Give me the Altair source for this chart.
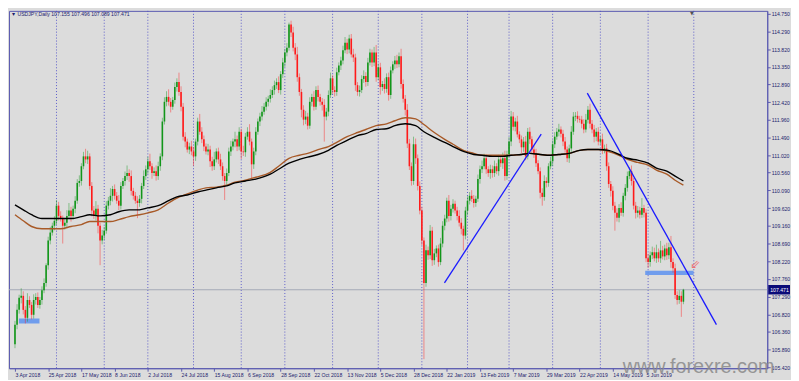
import altair as alt
import pandas as pd

# ---------------- data ----------------
x_labels = ["3 Apr 2018", "25 Apr 2018", "17 May 2018", "8 Jun 2018", "2 Jul 2018",
            "24 Jul 2018", "15 Aug 2018", "6 Sep 2018", "28 Sep 2018", "22 Oct 2018",
            "13 Nov 2018", "5 Dec 2018", "28 Dec 2018", "22 Jan 2019", "13 Feb 2019",
            "7 Mar 2019", "29 Mar 2019", "22 Apr 2019", "14 May 2019", "5 Jun 2019"]
label_idx = [0, 16, 32, 48, 64, 80, 96, 112, 128, 144, 160, 176, 192, 208, 224,
             240, 256, 272, 288, 304]
grid_idx = [20, 43, 64, 86, 109, 130, 153, 175, 196, 218, 238, 259, 282, 305, 327]
y_ticks = [114.750, 114.290, 113.820, 113.350, 112.890, 112.420, 111.960, 111.490,
           111.020, 110.560, 110.090, 109.620, 109.160, 108.690, 108.220, 107.760,
           107.290, 106.820, 106.360, 105.890, 105.420]

first_open = 106.03
closes = [
    106.55, 106.94, 107.26, 107.31, 106.94, 106.73, 107.20, 107.07, 106.81, 107.20,
    107.28, 107.07, 107.20, 107.46, 107.65, 108.12, 108.77, 108.98, 109.16, 109.29,
    109.69, 109.42, 109.35, 109.16, 109.24, 109.42, 109.56, 109.42, 109.61, 109.82,
    110.29, 110.34, 110.73, 110.99, 110.91, 110.99, 110.21, 109.56, 109.42, 109.61,
    109.16, 108.77, 108.90, 109.03, 109.69, 109.82, 109.95, 110.13, 109.95, 109.82,
    109.69, 110.21, 110.34, 110.47, 110.55, 110.47, 110.08, 109.95, 109.82, 109.76,
    109.87, 110.21, 110.47, 110.65, 110.86, 110.73, 110.55, 110.60, 110.47, 110.73,
    110.99, 111.91, 112.43, 112.56, 112.43, 112.30, 112.48, 112.82, 112.95, 112.69,
    112.30, 111.51, 111.38, 111.17, 111.25, 111.12, 110.99, 111.38, 111.91, 111.64,
    111.44, 111.25, 111.12, 111.17, 110.86, 110.73, 110.91, 111.12, 110.91, 110.73,
    110.47, 110.34, 110.55, 111.12, 111.25, 111.38, 111.44, 111.25, 111.64, 111.12,
    111.10, 111.51, 111.64, 111.38, 110.78, 111.12, 111.64, 111.91, 112.04, 112.17,
    112.30, 112.43, 112.51, 112.61, 112.74, 112.87, 112.95, 112.74, 113.16, 113.47,
    113.73, 113.86, 114.47, 114.26, 113.86, 113.68, 113.08, 112.69, 112.22, 111.96,
    112.04, 111.80, 112.43, 112.56, 112.30, 112.74, 112.56, 112.43, 112.35, 112.04,
    112.17, 112.61, 113.05, 112.74, 112.69, 113.21, 113.39, 113.52, 113.79, 113.99,
    113.81, 114.10, 113.68, 113.60, 112.87, 112.69, 112.74, 113.03, 113.11, 112.95,
    113.47, 113.73, 113.47, 113.73, 113.08, 113.34, 112.82, 112.90, 112.77, 113.08,
    112.61, 113.26, 113.42, 113.52, 113.42, 113.63, 112.90, 112.51, 112.22, 111.33,
    110.73, 110.34, 111.31, 110.94, 110.21, 109.56, 108.77, 107.65, 108.51, 108.38,
    109.03, 108.25, 108.43, 108.56, 108.20, 108.69, 109.16, 109.35, 109.82, 109.42,
    109.61, 109.74, 109.56, 109.42, 109.24, 109.08, 108.90, 109.56, 109.82, 109.95,
    109.87, 109.76, 109.87, 110.39, 110.65, 110.73, 110.94, 110.65, 110.55, 110.65,
    110.55, 110.73, 110.60, 110.91, 110.81, 110.94, 110.47, 111.04, 111.38, 112.04,
    111.77, 111.91, 111.57, 111.44, 111.23, 111.38, 110.99, 111.64, 111.44, 111.17,
    111.07, 110.81, 110.60, 110.03, 109.92, 110.34, 110.29, 110.73, 110.86, 111.31,
    111.51, 111.64, 111.70, 111.59, 111.38, 111.17, 110.94, 111.20, 111.64, 112.04,
    112.06, 111.98, 111.96, 111.85, 111.70, 111.96, 112.22, 111.85, 111.70, 111.51,
    111.64, 111.38, 111.44, 111.17, 111.20, 110.73, 110.26, 110.08, 109.69, 109.50,
    109.37, 109.63, 109.50, 109.95, 110.16, 110.47, 110.60, 110.34, 109.69, 109.50,
    109.56, 109.45, 109.63, 109.50, 108.30, 108.20, 108.38, 108.46, 108.30, 108.46,
    108.30, 108.51, 108.35, 108.56, 108.38, 108.59, 108.20, 108.04, 107.33, 107.20,
    107.31, 107.155, 107.471,
]
upper_wick = [
    0.10, 0.15, 0.08, 0.20, 0.12, 0.10, 0.18, 0.10, 0.08, 0.15,
    0.10, 0.12, 0.08, 0.10, 0.12, 0.05, 0.10, 0.15, 0.08, 0.12,
    0.15, 0.10, 0.12, 0.08, 0.10, 0.15, 0.20, 0.10, 0.08, 0.12,
    0.10, 0.15, 0.08, 0.12, 0.20, 0.15, 0.08, 0.10, 0.12, 0.20,
    0.10, 0.08, 0.15, 0.10, 0.12, 0.10, 0.20, 0.08, 0.12, 0.10,
    0.15, 0.10, 0.08, 0.12, 0.20, 0.10, 0.15, 0.08, 0.10, 0.12,
    0.10, 0.08, 0.15, 0.10, 0.12, 0.20, 0.08, 0.10, 0.15, 0.12,
    0.08, 0.10, 0.12, 0.15, 0.20, 0.10, 0.08, 0.12, 0.10, 0.25,
    0.15, 0.10, 0.12, 0.08, 0.10, 0.15, 0.12, 0.08, 0.10, 0.20,
    0.12, 0.10, 0.08, 0.15, 0.10, 0.12, 0.20, 0.08, 0.10, 0.15,
    0.10, 0.08, 0.12, 0.10, 0.15, 0.08, 0.20, 0.10, 0.12, 0.08,
    0.15, 0.10, 0.12, 0.20, 0.08, 0.10, 0.12, 0.08, 0.10, 0.15,
    0.10, 0.12, 0.08, 0.15, 0.10, 0.12, 0.10, 0.15, 0.08, 0.12,
    0.10, 0.12, 0.05, 0.10, 0.15, 0.12, 0.20, 0.10, 0.08, 0.12,
    0.15, 0.10, 0.12, 0.08, 0.15, 0.10, 0.12, 0.08, 0.10, 0.15,
    0.10, 0.12, 0.15, 0.08, 0.10, 0.12, 0.08, 0.10, 0.12, 0.15,
    0.10, 0.10, 0.12, 0.15, 0.10, 0.08, 0.12, 0.10, 0.15, 0.10,
    0.12, 0.10, 0.08, 0.15, 0.20, 0.10, 0.12, 0.08, 0.15, 0.10,
    0.12, 0.10, 0.08, 0.12, 0.15, 0.10, 0.20, 0.12, 0.10, 0.15,
    0.12, 0.10, 0.20, 0.15, 0.10, 0.12, 0.10, 0.08, 0.15, 0.10,
    0.15, 0.10, 0.12, 0.08, 0.10, 0.15, 0.12, 0.10, 0.08, 0.15,
    0.10, 0.12, 0.08, 0.10, 0.15, 0.12, 0.08, 0.10, 0.12, 0.10,
    0.15, 0.10, 0.08, 0.12, 0.10, 0.15, 0.12, 0.10, 0.08, 0.12,
    0.10, 0.15, 0.08, 0.12, 0.10, 0.15, 0.20, 0.10, 0.12, 0.15,
    0.12, 0.10, 0.15, 0.08, 0.10, 0.12, 0.15, 0.10, 0.12, 0.08,
    0.10, 0.12, 0.08, 0.10, 0.12, 0.15, 0.10, 0.08, 0.12, 0.10,
    0.12, 0.10, 0.15, 0.08, 0.10, 0.12, 0.08, 0.10, 0.15, 0.12,
    0.10, 0.12, 0.08, 0.10, 0.12, 0.15, 0.10, 0.16, 0.10, 0.12,
    0.10, 0.12, 0.08, 0.15, 0.10, 0.12, 0.10, 0.08, 0.12, 0.10,
    0.12, 0.10, 0.15, 0.08, 0.10, 0.12, 0.10, 0.15, 0.08, 0.10,
    0.12, 0.10, 0.26, 0.08, 0.10, 0.12, 0.10, 0.15, 0.12, 0.20,
    0.10, 0.25, 0.12, 0.10, 0.15, 0.12, 0.30, 0.10, 0.12, 0.10,
    0.15, 0.12, 0.025,
]
lower_wick = [
    0.10, 0.12, 0.10, 0.15, 0.12, 0.15, 0.10, 0.08, 0.12, 0.10,
    0.12, 0.08, 0.10, 0.12, 0.08, 0.10, 0.12, 0.10, 0.08, 0.12,
    0.10, 0.12, 0.08, 0.47, 0.10, 0.12, 0.08, 0.15, 0.10, 0.12,
    0.08, 0.10, 0.12, 0.08, 0.10, 0.12, 0.10, 0.15, 0.08, 0.12,
    0.20, 0.65, 0.10, 0.12, 0.08, 0.10, 0.12, 0.15, 0.10, 0.08,
    0.12, 0.10, 0.08, 0.12, 0.10, 0.15, 0.12, 0.10, 0.08, 0.40,
    0.10, 0.12, 0.08, 0.10, 0.12, 0.10, 0.15, 0.08, 0.12, 0.10,
    0.12, 0.10, 0.08, 0.12, 0.10, 0.15, 0.08, 0.10, 0.12, 0.10,
    0.12, 0.10, 0.15, 0.08, 0.12, 0.10, 0.25, 0.12, 0.10, 0.08,
    0.10, 0.12, 0.08, 0.10, 0.15, 0.12, 0.10, 0.08, 0.12, 0.10,
    0.12, 0.50, 0.10, 0.08, 0.12, 0.10, 0.15, 0.12, 0.10, 0.20,
    0.10, 0.12, 0.08, 0.10, 0.40, 0.12, 0.10, 0.08, 0.12, 0.10,
    0.08, 0.10, 0.12, 0.10, 0.08, 0.12, 0.10, 0.08, 0.12, 0.10,
    0.12, 0.10, 0.08, 0.12, 0.10, 0.15, 0.12, 0.10, 0.20, 0.15,
    0.12, 0.10, 0.08, 0.12, 0.10, 0.08, 0.12, 0.10, 0.15, 0.66,
    0.10, 0.12, 0.08, 0.10, 0.12, 0.10, 0.08, 0.12, 0.10, 0.08,
    0.12, 0.10, 0.08, 0.12, 0.15, 0.10, 0.12, 0.08, 0.10, 0.12,
    0.10, 0.08, 0.12, 0.10, 0.12, 0.08, 0.20, 0.10, 0.12, 0.10,
    0.15, 0.10, 0.08, 0.12, 0.10, 0.08, 0.12, 0.10, 0.15, 0.12,
    0.10, 0.12, 0.10, 0.15, 0.12, 0.10, 0.12, 2.01, 0.10, 0.12,
    0.10, 0.15, 0.12, 0.10, 0.12, 0.08, 0.10, 0.12, 0.10, 0.15,
    0.12, 0.10, 0.08, 0.12, 0.10, 0.15, 0.39, 0.10, 0.12, 0.10,
    0.08, 0.12, 0.10, 0.08, 0.12, 0.10, 0.08, 0.12, 0.10, 0.15,
    0.12, 0.10, 0.08, 0.12, 0.10, 0.15, 0.12, 0.10, 0.08, 0.12,
    0.10, 0.12, 0.08, 0.10, 0.15, 0.12, 0.10, 0.08, 0.12, 0.10,
    0.12, 0.10, 0.08, 0.15, 0.23, 0.10, 0.12, 0.10, 0.08, 0.12,
    0.10, 0.08, 0.12, 0.10, 0.12, 0.08, 0.10, 0.12, 0.10, 0.08,
    0.12, 0.10, 0.08, 0.12, 0.10, 0.08, 0.10, 0.12, 0.10, 0.15,
    0.12, 0.10, 0.08, 0.12, 0.10, 0.12, 0.10, 0.15, 0.12, 0.47,
    0.10, 0.12, 0.08, 0.10, 0.12, 0.10, 0.08, 0.12, 0.10, 0.15,
    0.12, 0.10, 0.08, 0.12, 0.10, 0.15, 0.12, 0.10, 0.08, 0.12,
    0.10, 0.12, 0.08, 0.10, 0.12, 0.10, 0.15, 0.12, 0.10, 0.12,
    0.10, 0.40, 0.066,
]

ma_idx = [0, 4, 8, 13, 18, 22, 27, 32, 36, 41, 46, 50, 55, 60, 64, 69, 74, 78, 83, 88,
          92, 97, 102, 106, 111, 116, 123, 127, 132, 137, 141, 146, 151, 155, 160, 165,
          169, 174, 179, 183, 188, 193, 197, 202, 207, 211, 216, 221, 225, 230, 235, 239,
          244, 248, 253, 258, 262, 267, 272, 276, 281, 286, 291, 295, 300, 305, 309, 314,
          318, 322]
ma_black = [109.71, 109.58, 109.45, 109.35, 109.35, 109.35, 109.35, 109.40, 109.45, 109.42,
            109.45, 109.53, 109.58, 109.58, 109.63, 109.69, 109.82, 109.92, 109.97, 110.05,
            110.10, 110.16, 110.21, 110.29, 110.34, 110.39, 110.52, 110.65, 110.81, 110.91,
            110.97, 111.04, 111.15, 111.28, 111.41, 111.54, 111.59, 111.70, 111.72, 111.80,
            111.85, 111.80, 111.64, 111.49, 111.36, 111.25, 111.12, 111.04, 111.02, 110.99,
            110.99, 111.02, 111.04, 111.07, 111.04, 111.02, 111.04, 111.07, 111.15, 111.17,
            111.17, 111.15, 111.04, 110.94, 110.89, 110.81, 110.68, 110.60, 110.47, 110.34]
ma_brown = [109.45, 109.29, 109.14, 109.08, 109.08, 109.08, 109.14, 109.19, 109.27, 109.27,
            109.27, 109.32, 109.40, 109.45, 109.50, 109.58, 109.76, 109.89, 110.00, 110.10,
            110.16, 110.18, 110.23, 110.31, 110.36, 110.44, 110.57, 110.73, 110.94, 111.02,
            111.07, 111.17, 111.25, 111.36, 111.51, 111.62, 111.70, 111.80, 111.85, 111.93,
            112.01, 111.98, 111.83, 111.62, 111.44, 111.31, 111.15, 111.07, 111.02, 111.02,
            111.02, 111.02, 111.04, 111.07, 111.04, 111.02, 111.04, 111.07, 111.15, 111.17,
            111.17, 111.12, 111.02, 110.91, 110.83, 110.76, 110.63, 110.52, 110.36, 110.23]

trend_up_idx = [206.9, 253.5]
trend_up_px = [107.65, 111.58]
trend_dn_idx = [275.7, 337.9]
trend_dn_px = [112.66, 106.55]
zone_idx0 = [1.9, 303.6]
zone_idx1 = [11.8, 326.9]
zone_lo = [106.58, 107.86]
zone_hi = [106.71, 107.97]
arrow_idx = [327.6]
arrow_px = [108.15]
last_price = 107.471
title_text = "USDJPY,Daily 107.155 107.496 107.089 107.471"

# ---------------- tables ----------------
opens = [first_open] + closes[:-1]
candles = pd.DataFrame({
    "idx": list(range(len(closes))),
    "open": opens,
    "close": closes,
})
candles["high"] = [max(o, c) + u for o, c, u in zip(opens, closes, upper_wick)]
candles["low"] = [min(o, c) - l for o, c, l in zip(opens, closes, lower_wick)]
candles["dir"] = ["up" if c >= o else "down" for o, c in zip(opens, closes)]

ma_df = pd.DataFrame({"idx": ma_idx, "black": ma_black, "brown": ma_brown})
tu_df = pd.DataFrame({"idx": trend_up_idx, "p": trend_up_px})
td_df = pd.DataFrame({"idx": trend_dn_idx, "p": trend_dn_px})
zone_df = pd.DataFrame({"x0": zone_idx0, "x1": zone_idx1, "lo": zone_lo, "hi": zone_hi})
grid_df = pd.DataFrame({"idx": grid_idx})
last_df = pd.DataFrame({"p": [last_price], "lo": [last_price - 0.125],
                        "hi": [last_price + 0.125], "t": [f"{last_price:.3f}"]})
arrow_df = pd.DataFrame({"idx": arrow_idx, "p": arrow_px})

# ---------------- styling ----------------
W, H = 766, 361
FRAME = "#5b5bb0"
NAVY = "#1c1c6e"
GREEN = "#12961a"
RED = "#ff1a1a"
FONT = "Liberation Sans"
FS = 5.2

xscale = alt.Scale(domain=[-0.5, 360], nice=False, zero=False)
yscale = alt.Scale(domain=[105.40, 114.83], nice=False, zero=False)
label_expr = "[" + ",".join("'" + s + "'" for s in x_labels) + "][round(datum.value/16)]"
xaxis = alt.Axis(values=label_idx, labelExpr=label_expr, title=None, grid=False,
                 tickSize=3, tickColor=FRAME, domainColor=FRAME, labelAlign="left",
                 labelBaseline="top", labelPadding=1, labelFontSize=FS, labelFont=FONT,
                 labelColor=NAVY, labelOverlap=False, labelFlush=False)
yaxis = alt.Axis(orient="right", values=y_ticks, format=".3f", title=None, grid=False,
                 tickSize=3, tickColor=FRAME, domainColor=FRAME, labelAlign="left",
                 labelBaseline="middle", labelPadding=1, labelFontSize=FS, labelFont=FONT,
                 labelColor=NAVY, labelOverlap=False, labelFlush=False)


def X(f):
    return alt.X(f, type="quantitative", scale=xscale, axis=xaxis)


def Y(f):
    return alt.Y(f, type="quantitative", scale=yscale, axis=yaxis)


color_dir = alt.Color("dir:N", scale=alt.Scale(domain=["up", "down"], range=[GREEN, RED]),
                      legend=None)

grid = alt.Chart(grid_df).mark_rule(color="#4f4fc8", strokeDash=[1, 2], strokeWidth=1,
                                    opacity=0.9).encode(x=X("idx"))
lastline = alt.Chart(last_df).mark_rule(color="#a3a8b6", strokeWidth=1).encode(y=Y("p"))
zones = alt.Chart(zone_df).mark_rect(color="#6496ee", opacity=0.9).encode(
    x=X("x0"), x2="x1", y=Y("lo"), y2="hi")
wicks = alt.Chart(candles).mark_rule(strokeWidth=1, opacity=0.45).encode(
    x=X("idx"), y=Y("low"), y2="high", color=color_dir)
bodies = alt.Chart(candles).mark_bar(size=1.6).encode(
    x=X("idx"), y=Y("open"), y2="close", color=color_dir)
ma_b = alt.Chart(ma_df).mark_line(color="#000000", strokeWidth=1.4,
                                  interpolate="monotone").encode(x=X("idx"), y=Y("black"))
ma_r = alt.Chart(ma_df).mark_line(color="#a85a28", strokeWidth=1.4,
                                  interpolate="monotone").encode(x=X("idx"), y=Y("brown"))
tu = alt.Chart(tu_df).mark_line(color="#1a1aff", strokeWidth=1.3).encode(x=X("idx"), y=Y("p"))
td = alt.Chart(td_df).mark_line(color="#1a1aff", strokeWidth=1.3).encode(x=X("idx"), y=Y("p"))
arrow = alt.Chart(arrow_df).mark_text(text="\u21d9", color="#f07070", fontSize=12,
                                      font="DejaVu Sans").encode(x=X("idx"), y=Y("p"))

one = pd.DataFrame({"a": [0]})
title = alt.Chart(one).mark_text(text="\u25bc  " + title_text, align="left", baseline="top",
                                 fontSize=FS, font=FONT, color=NAVY).encode(
    x=alt.value(2), y=alt.value(1))
shift_mark = alt.Chart(one).mark_text(text="\u25bc", align="center", baseline="top",
                                      fontSize=5, font="DejaVu Sans", color="#505050").encode(
    x=alt.value(690), y=alt.value(0))
price_box = alt.Chart(last_df).mark_rect(color="#0a0a78").encode(
    x=alt.value(W + 1), x2=alt.value(W + 23), y=Y("lo"), y2="hi")
price_txt = alt.Chart(last_df).mark_text(align="left", baseline="middle", fontSize=FS,
                                         font=FONT, color="#ffffff").encode(
    x=alt.value(W + 3), y=Y("p"), text="t:N")
watermark = alt.Chart(one).mark_text(text="www.forexre.com", align="left",
                                     baseline="alphabetic", fontSize=20, font=FONT,
                                     color="#8a8a8a", opacity=0.85).encode(
    x=alt.value(620), y=alt.value(366))

chart = alt.layer(grid, lastline, zones, wicks, bodies, ma_r, ma_b, tu, td, arrow,
                  title, shift_mark, price_box, price_txt, watermark).properties(
    width=W, height=H, background="#dcdcdc",
    padding={"left": 0, "top": 0, "right": 1, "bottom": 0},
).configure_view(stroke=FRAME, strokeWidth=1)

chart.save("out.html", embed_options={"renderer": "svg", "actions": False})
